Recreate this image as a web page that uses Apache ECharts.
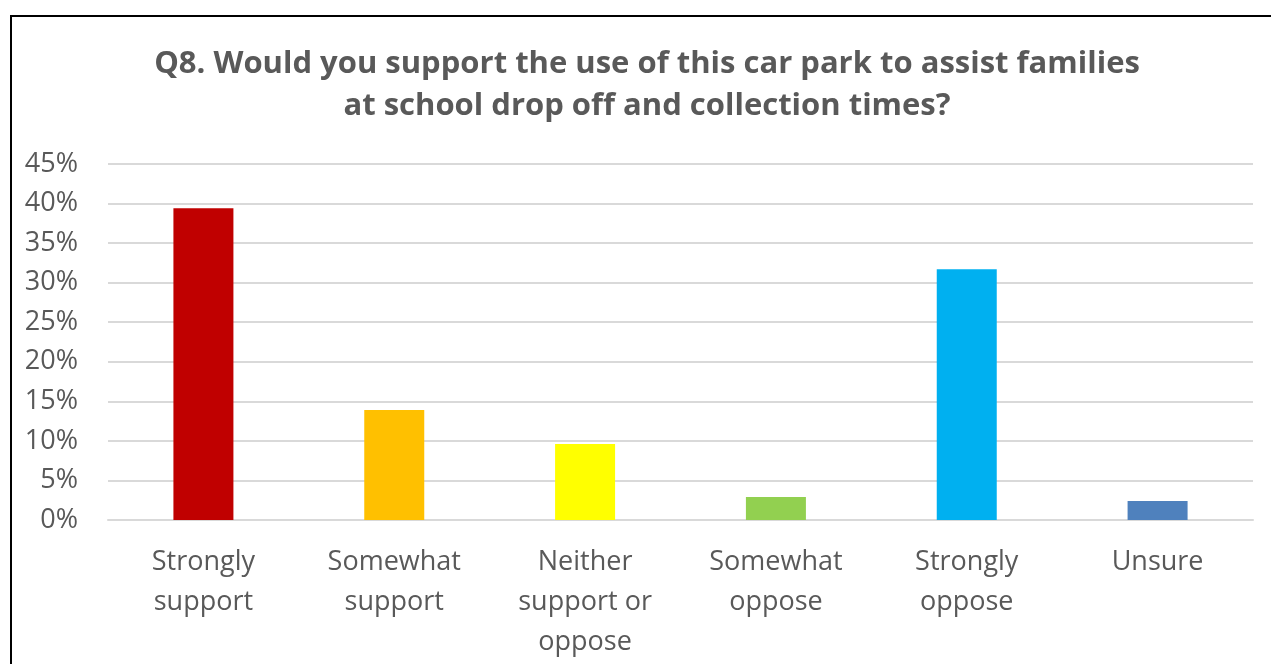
<!DOCTYPE html>
<html lang="en">
<head>
  <meta charset="UTF-8">
  <title>Q8 car park</title>
  <script src="https://cdn.jsdelivr.net/npm/echarts@6/dist/echarts.min.js"></script>
  <style>
    html, body { margin: 0; padding: 0; background: #fff; }
    .mychart { width: 1271px; height: 664px; }
  </style>
</head>
<body>
  <div class="mychart"></div>
<script>
  const categories = [
    'Strongly\nsupport',
    'Somewhat\nsupport',
    'Neither\nsupport or\noppose',
    'Somewhat\noppose',
    'Strongly\noppose',
    'Unsure'
  ];
  const values = [39.4, 13.9, 9.6, 2.9, 31.7, 2.4];
  const barColors = ['#c00000', '#ffc000', '#ffff00', '#92d050', '#00b0f0', '#4f81bd'];

  const font = 'Open Sans, Liberation Sans, sans-serif';
  const textColor = '#595959';

  const myChart = window.echarts.init(document.querySelector('.mychart'), null, { renderer: 'canvas' });
  myChart.setOption({
    animation: false,
    title: {
      text: 'Q8. Would you support the use of this car park to assist families\nat school drop off and collection times?',
      left: 642,
      textAlign: 'center',
      top: 38,
      textStyle: {
        fontFamily: font,
        fontWeight: 'bold',
        fontSize: 31,
        lineHeight: 42,
        color: textColor
      }
    },
    graphic: [{
      type: 'rect',
      shape: { x: 11, y: 16, width: 1300, height: 700 },
      style: { fill: null, stroke: '#000', lineWidth: 2 },
      z: 100
    }],
    grid: { left: 108, right: 18, top: 164, bottom: 144 },
    xAxis: {
      type: 'category',
      data: categories,
      axisLine: { show: true, lineStyle: { color: '#d9d9d9', width: 2 } },
      axisTick: { show: false },
      axisLabel: {
        margin: 22,
        fontFamily: font,
        fontSize: 27,
        lineHeight: 40,
        color: textColor,
        interval: 0
      }
    },
    yAxis: {
      type: 'value',
      min: 0,
      max: 45,
      interval: 5,
      axisLine: { show: false },
      axisTick: { show: false },
      splitLine: { lineStyle: { color: '#d9d9d9', width: 2 } },
      axisLabel: {
        margin: 30,
        fontFamily: font,
        fontSize: 27,
        color: textColor,
        formatter: '{value}%'
      }
    },
    series: [{
      type: 'bar',
      data: values.map((v, i) => ({ value: v, itemStyle: { color: barColors[i] } })),
      barWidth: 60
    }]
  });
</script>
</body>
</html>
